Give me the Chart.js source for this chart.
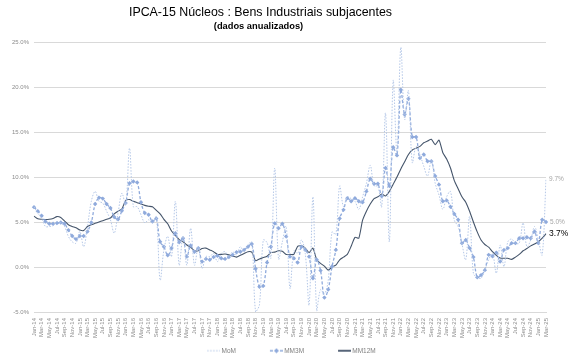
<!DOCTYPE html>
<html lang="pt">
<head>
  <meta charset="UTF-8" />
  <title>IPCA-15 Núcleos : Bens Industriais subjacentes</title>
  <script src="https://cdn.jsdelivr.net/npm/chart.js"></script>
  <style>
    html, body { margin: 0; padding: 0; background: #fff; }
    #wrap { width: 582px; height: 362px; }
  </style>
</head>
<body>
  <div id="wrap"><canvas id="chart" width="582" height="362"></canvas></div>

  <script>
    // Meses Jan-14 .. Mar-25
    const monthNames = ['Jan','Feb','Mar','Apr','May','Jun','Jul','Aug','Sep','Oct','Nov','Dec'];
    const labels = [];
    for (let y = 14; y <= 25; y++) {
      for (let m = 0; m < 12; m++) {
        if (y === 25 && m > 2) break;
        labels.push(monthNames[m] + '-' + y);
      }
    }

    // Variação mensal anualizada (%)
    const mom = [
      6.7, 6.0, 5.4, 4.5, 4.5, 4.6, 5.05, 4.9, 4.5, 3.4,
      2.8, 2.65, 3.95, 2.25, 4.5, 7.3, 8.4, 7.3, 7.1, 6.2,
      5.25, 3.75, 6.0, 8.2, 6.9, 13.2, 6.7, 6.7, 5.8, 4.9,
      5.25, 4.9, 5.6, -1.45, 1.9, 3.4, 1.15, 7.3, 0.2, 3.4,
      0.2, 4.3, 0.2, 2.25, -0.15, 1.15, 1.15, 1.5, 0.6, 1.5,
      1.7, 1.15, 1.7, 1.35, 2.25, 1.7, 2.45, 2.8, -5.0, -4.2,
      3.0, 2.7, 1.0, 11.0, 0.9, 2.8, 4.5, -2.4, 1.8, 1.5,
      3.0, 1.5, -4.2, 7.8, -4.9, -2.5, -3.0, -1.5, 3.9, 3.6,
      9.0, 6.7, 7.8, 7.6, 7.3, 6.4, 7.8, 9.3, 11.3, 9.0,
      9.0, 6.7, 17.1, 2.8, 20.7, 12.7, 24.4, 16.4, 19.6, 11.6,
      13.4, 12.5, 11.2, 10.1, 11.9, 9.3, 8.0, 6.4, 7.8, 8.4,
      5.2, 4.5, 2.6, 0.8, 5.6, -0.7, -1.15, -1.25, -0.35, 0.8,
      1.5, -0.7, 2.45, 0.05, 2.8, 3.1, 2.65, 2.65, 4.9, 2.25,
      3.0, 4.5, 3.0, 1.35, 9.7
    ];

    // Média móvel 3 meses (%)
    const mm3m = [
      6.65, 6.2, 5.7, 5.05, 4.8, 4.8, 4.87, 4.95, 4.8, 4.1,
      3.45, 3.1, 3.45, 3.45, 3.95, 4.95, 7.0, 7.7, 7.6, 7.0,
      6.55, 5.55, 5.3, 6.25, 7.1, 9.3, 9.5, 9.4, 7.2, 6.0,
      5.8, 5.05, 5.4, 2.8, 2.25, 1.3, 2.1, 3.75, 2.75, 3.2,
      1.15, 2.4, 1.7, 2.1, 0.6, 0.9, 0.8, 1.1, 1.25, 0.97,
      0.9, 1.1, 1.35, 1.65, 1.7, 1.9, 2.25, 2.55, -0.2, -2.2,
      -2.1, 0.5, 2.25, 4.85, 4.3, 4.8, 3.4, 1.15, 0.97, 0.5,
      2.25, 1.9, 1.15, -1.25, 0.8, -0.4, -3.4, -2.5, 0.05, 1.9,
      5.4, 6.35, 7.65, 7.3, 7.65, 7.3, 7.2, 8.4, 9.8, 9.25,
      9.25, 7.85, 11.0, 9.0, 13.3, 12.4, 19.7, 16.95, 18.7, 14.45,
      14.45, 12.1, 12.5, 11.75, 11.75, 10.1, 9.15, 7.3, 7.4, 6.7,
      5.9, 5.25, 2.65, 3.0, 2.1, 1.1, -1.15, -0.9, -0.35, 1.35,
      1.2, 1.6, 0.6, 1.9, 2.1, 2.65, 2.65, 3.2, 3.2, 3.3,
      3.2, 3.95, 2.65, 5.25, 5.0
    ];

    // Média móvel 12 meses (%)
    const mm12m = [
      5.65, 5.35, 5.3, 5.28, 5.3, 5.4, 5.6, 5.5, 5.1, 4.7,
      4.5, 4.35, 4.1, 4.05, 4.5, 4.7, 4.85, 5.0, 5.15, 5.3,
      5.45, 5.9, 6.2, 6.45, 7.4, 7.5, 7.3, 7.15, 7.0, 6.85,
      6.75, 6.7, 6.3, 5.9, 5.3, 4.8, 4.0, 3.5, 3.05, 2.8,
      2.45, 2.2, 1.8, 1.8, 2.05, 2.1, 1.9, 1.7, 1.4, 1.4,
      1.45, 1.35, 1.2, 1.1, 1.3, 1.5, 1.7, 1.65, 0.7, 0.9,
      1.05, 1.2, 1.6, 1.65, 1.8, 1.75, 1.4, 1.4, 1.4, 2.3,
      2.35, 2.1, 1.6, 2.1, 0.8, 0.4, 0.1, -0.35, 0.0, 0.2,
      0.8, 1.1, 1.4, 2.3, 3.3, 3.2, 5.2, 6.2, 7.0, 7.6,
      7.8, 8.1, 7.9, 8.4, 9.2, 10.0, 10.9, 11.7, 12.5, 13.0,
      13.2, 13.4, 13.8, 14.0, 14.2, 13.6, 14.1, 12.7, 12.0, 11.0,
      9.6, 8.7, 7.8, 7.2, 6.2, 5.0, 3.9, 3.0, 2.5, 2.2,
      1.7, 1.3, 1.0, 0.97, 0.97, 0.85, 1.1, 1.4, 1.8, 2.05,
      2.35, 2.55, 2.8, 3.2, 3.7
    ];

    const yTicks = [-5, 0, 5, 10, 15, 20, 25];

    const cMoM = '#b4c7e7';
    const cMM3M = '#8faadc';
    const cMM12M = '#44546a';
    const fontFam = "'Liberation Sans', Arial, sans-serif";

    // Legenda: caixa larga com espaço em branco à esquerda do ícone
    const legendBox = 38;
    const rightPad = 26;

    function makeIcon(color, dash, width, diamond) {
      const c = document.createElement('canvas');
      c.width = legendBox + 4; c.height = 6;
      const g = c.getContext('2d');
      const x0 = c.width - 13;
      g.strokeStyle = color; g.lineWidth = width; g.setLineDash(dash);
      g.beginPath(); g.moveTo(x0, 3); g.lineTo(x0 + 13, 3); g.stroke();
      if (diamond) {
        g.fillStyle = color;
        g.beginPath();
        g.moveTo(x0 + 6.5, 0.5); g.lineTo(x0 + 9, 3); g.lineTo(x0 + 6.5, 5.5); g.lineTo(x0 + 4, 3);
        g.closePath(); g.fill();
      }
      return c;
    }
    const legendIcons = [
      makeIcon(cMoM, [1.5, 1.5], 1.2, false),
      makeIcon(cMM3M, [3, 2], 1.3, true),
      makeIcon(cMM12M, [], 1.8, false)
    ];

    // Título e subtítulo (centrados como no original, um pouco à esquerda)
    const header = {
      id: 'header',
      afterDraw(chart) {
        const ctx = chart.ctx;
        ctx.save();
        ctx.textAlign = 'center';
        ctx.textBaseline = 'middle';
        ctx.fillStyle = '#000';
        ctx.font = '12.4px ' + fontFam;
        ctx.fillText('IPCA-15 Núcleos : Bens Industriais subjacentes', 260.5, 12.5);
        ctx.font = 'bold 9.3px ' + fontFam;
        ctx.fillText('(dados anualizados)', 258.5, 26);
        ctx.restore();
      }
    };

    // Rótulo do último valor de cada série
    const endStyles = [
      { color: '#a6a6a6', font: '6.5px ' + fontFam, dx: 3 },
      { color: '#a6a6a6', font: '6.5px ' + fontFam, dx: 4 },
      { color: '#000000', font: '8.5px ' + fontFam, dx: 3 }
    ];
    const endLabels = {
      id: 'endLabels',
      afterDatasetsDraw(chart) {
        const ctx = chart.ctx;
        ctx.save();
        ctx.textAlign = 'left';
        ctx.textBaseline = 'middle';
        chart.data.datasets.forEach((ds, i) => {
          const meta = chart.getDatasetMeta(i);
          const last = meta.data.length - 1;
          const pt = meta.data[last];
          const st = endStyles[i];
          ctx.fillStyle = st.color;
          ctx.font = st.font;
          ctx.fillText(ds.data[last].toFixed(1) + '%', pt.x + st.dx, pt.y);
        });
        ctx.restore();
      }
    };

    new Chart(document.getElementById('chart').getContext('2d'), {
      type: 'line',
      data: {
        labels: labels,
        datasets: [
          {
            label: 'MoM',
            data: mom,
            borderColor: cMoM,
            borderWidth: 1,
            borderDash: [1.5, 1.5],
            pointRadius: 0,
            tension: 0.35,
            fill: false
          },
          {
            label: 'MM3M',
            data: mm3m,
            borderColor: cMM3M,
            borderWidth: 1.3,
            borderDash: [3, 2],
            pointStyle: 'rectRot',
            pointRadius: 2.2,
            pointBackgroundColor: cMM3M,
            pointBorderWidth: 0,
            tension: 0.35,
            fill: false
          },
          {
            label: 'MM12M',
            data: mm12m,
            borderColor: cMM12M,
            borderWidth: 1.1,
            pointRadius: 0,
            tension: 0.2,
            fill: false
          }
        ]
      },
      options: {
        responsive: false,
        devicePixelRatio: 1,
        animation: false,
        layout: { padding: { top: 42, right: rightPad, bottom: 0, left: 0 } },
        scales: {
          x: {
            offset: false,
            grid: { display: false },
            border: { display: true, color: '#d9d9d9' },
            afterFit(scale) { scale.height = 28.5; },
            ticks: {
              autoSkip: false,
              maxRotation: 90,
              minRotation: 90,
              padding: -2,
              color: '#8c8c8c',
              font: { family: fontFam, size: 6 },
              callback: function (value, index) {
                return index % 2 === 0 ? this.getLabelForValue(value) : '';
              }
            }
          },
          y: {
            min: -5,
            max: 25,
            afterFit(scale) { scale.width = 34; },
            afterBuildTicks(scale) { scale.ticks = yTicks.map(v => ({ value: v })); },
            border: { display: false },
            grid: { color: '#d9d9d9', lineWidth: 1, drawTicks: false },
            ticks: {
              padding: 5,
              color: '#8c8c8c',
              font: { family: fontFam, size: 6 },
              callback: v => v.toFixed(1) + '%'
            }
          },
          // eixo vazio à direita: reserva espaço para os rótulos finais
          yRight: {
            type: 'linear',
            position: 'right',
            min: -5,
            max: 25,
            afterFit(scale) { scale.width = 36 - rightPad; },
            grid: { display: false },
            border: { display: false },
            ticks: { display: false }
          }
        },
        plugins: {
          title: { display: false },
          legend: {
            position: 'bottom',
            maxHeight: 21.5,
            labels: {
              usePointStyle: true,
              pointStyleWidth: legendBox,
              boxHeight: 6,
              padding: 7,
              color: '#7f7f7f',
              font: { family: fontFam, size: 6.5 },
              generateLabels(chart) {
                const items = Chart.defaults.plugins.legend.labels.generateLabels(chart);
                items.forEach((it, i) => { it.pointStyle = legendIcons[i]; });
                return items;
              }
            }
          },
          tooltip: { enabled: false }
        }
      },
      plugins: [endLabels, header]
    });
  </script>
</body>
</html>
